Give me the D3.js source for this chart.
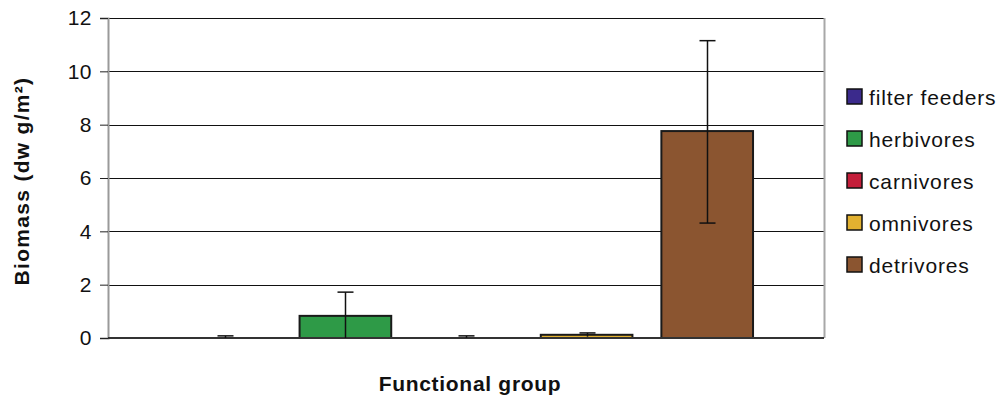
<!DOCTYPE html>
<html>
<head>
<meta charset="utf-8">
<script src="https://cdn.jsdelivr.net/npm/d3@7"></script>
<style>
  html, body { margin: 0; padding: 0; background: #fff; }
  svg { display: block; font-family: "Liberation Sans", Arial, sans-serif; }
</style>
</head>
<body>
<svg id="chart" width="1000" height="396"></svg>
<script>
// Mean biomass per functional group, with error bar extents
const groups = ["filter feeders", "herbivores", "carnivores", "omnivores", "detrivores"];
const biomass = [0.0, 0.83, 0.0, 0.12, 7.76];
const errorUpper = [0.08, 1.72, 0.08, 0.19, 11.15];
const errorLower = [0.0, 0.0, 0.0, 0.05, 4.31];
const colors = ["#3b2a8c", "#2e9a47", "#c41e3a", "#e2b130", "#8b5530"];
const yTicks = [0, 2, 4, 6, 8, 10, 12];

const svg = d3.select("#chart");
const plot = { left: 108, right: 824, top: 18, bottom: 338 };

const y = d3.scaleLinear().domain([0, 12]).range([plot.bottom, plot.top]);
const x = d3.scaleBand()
  .domain(groups)
  .range([164.5, 767.5])
  .paddingInner(0.24)
  .paddingOuter(0.12);

// Horizontal gridlines
svg.append("g")
  .selectAll("line")
  .data(yTicks.filter(d => d > 0))
  .join("line")
  .attr("x1", plot.left)
  .attr("x2", plot.right)
  .attr("y1", d => Math.round(y(d)) + 0.5)
  .attr("y2", d => Math.round(y(d)) + 0.5)
  .attr("stroke", "#111")
  .attr("stroke-width", 1);

// Right plot border
svg.append("line")
  .attr("x1", plot.right + 0.5).attr("x2", plot.right + 0.5)
  .attr("y1", plot.top).attr("y2", plot.bottom)
  .attr("stroke", "#a8a8a8").attr("stroke-width", 2);

// Y axis
const yAxis = d3.axisLeft(y)
  .tickValues(yTicks)
  .tickSize(8)
  .tickPadding(8)
  .tickFormat(d3.format("d"));

const gy = svg.append("g")
  .attr("transform", `translate(${plot.left},0)`)
  .call(yAxis);
gy.select(".domain").attr("stroke", "#9a9a9a").attr("stroke-width", 2);
gy.selectAll(".tick line").attr("stroke", "#222");
gy.selectAll(".tick text")
  .attr("font-size", 21)
  .attr("letter-spacing", 0.5)
  .attr("fill", "#111")
  .attr("font-family", "'Liberation Sans', Arial, sans-serif");

// Bars
svg.append("g")
  .selectAll("rect")
  .data(groups)
  .join("rect")
  .attr("x", d => x(d))
  .attr("width", x.bandwidth())
  .attr("y", (d, i) => y(biomass[i]))
  .attr("height", (d, i) => y(0) - y(biomass[i]))
  .attr("fill", (d, i) => colors[i])
  .attr("stroke", "#1a1a1a")
  .attr("stroke-width", 2);

// X axis baseline
svg.append("line")
  .attr("x1", plot.left).attr("x2", plot.right)
  .attr("y1", y(0)).attr("y2", y(0))
  .attr("stroke", "#333").attr("stroke-width", 2);

// Error bars
const eb = svg.append("g").attr("stroke", "#111").attr("stroke-width", 1.5);
groups.forEach((g, i) => {
  const cx = Math.round(x(g) + x.bandwidth() / 2) + 0.5;
  eb.append("line")
    .attr("x1", cx).attr("x2", cx)
    .attr("y1", y(errorUpper[i])).attr("y2", y(errorLower[i]));
  eb.append("line")
    .attr("x1", cx - 8).attr("x2", cx + 8)
    .attr("y1", y(errorUpper[i])).attr("y2", y(errorUpper[i]));
  if (errorLower[i] > 0.2) {
    eb.append("line")
      .attr("x1", cx - 8).attr("x2", cx + 8)
      .attr("y1", y(errorLower[i])).attr("y2", y(errorLower[i]));
  }
});

// Axis titles
svg.append("text")
  .attr("transform", "translate(29,181) rotate(-90)")
  .attr("text-anchor", "middle")
  .attr("font-size", 21)
  .attr("letter-spacing", 1.3)
  .attr("font-weight", "bold")
  .attr("fill", "#111")
  .text("Biomass (dw g/m²)");

svg.append("text")
  .attr("x", 470)
  .attr("y", 391)
  .attr("text-anchor", "middle")
  .attr("font-size", 21)
  .attr("letter-spacing", 0.7)
  .attr("font-weight", "bold")
  .attr("fill", "#111")
  .text("Functional group");

// Legend
const legend = svg.append("g")
  .selectAll("g")
  .data(groups)
  .join("g")
  .attr("transform", (d, i) => `translate(847,${89 + i * 42})`);
legend.append("rect")
  .attr("width", 15).attr("height", 15)
  .attr("fill", (d, i) => colors[i])
  .attr("stroke", "#111").attr("stroke-width", 1.5);
legend.append("text")
  .attr("x", 22)
  .attr("y", 15.5)
  .attr("font-size", 21)
  .attr("letter-spacing", 0.85)
  .attr("fill", "#111")
  .text(d => d);
</script>
</body>
</html>
